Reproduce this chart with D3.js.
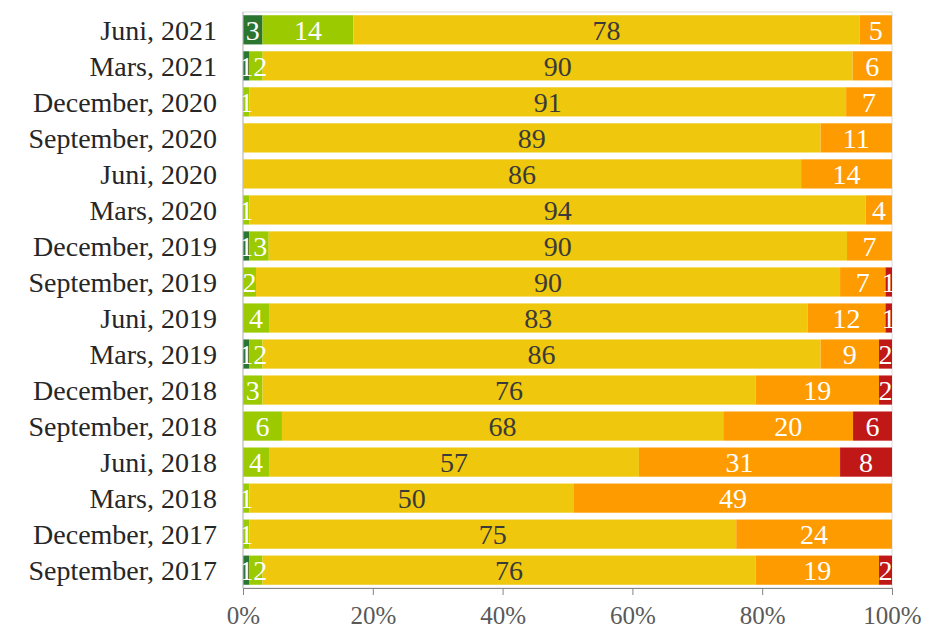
<!DOCTYPE html>
<html>
<head>
<meta charset="utf-8">
<script src="https://cdn.jsdelivr.net/npm/d3@7"></script>
<style>
  body { margin: 0; background: #fff; }
  svg text { font-family: "Liberation Serif", "Times New Roman", serif; }
</style>
</head>
<body>
<div id="chart"></div>
<script>
// categories, top to bottom
var periods = ["Juni, 2021", "Mars, 2021", "December, 2020", "September, 2020", "Juni, 2020",
    "Mars, 2020", "December, 2019", "September, 2019", "Juni, 2019", "Mars, 2019",
    "December, 2018", "September, 2018", "Juni, 2018", "Mars, 2018", "December, 2017",
    "September, 2017"];

// series values (%) per period, same order as periods
var darkGreen  = [3, 1, 0, 0, 0, 0, 1, 0, 0, 1, 0, 0, 0, 0, 0, 1];
var lightGreen = [14, 2, 1, 0, 0, 1, 3, 2, 4, 2, 3, 6, 4, 1, 1, 2];
var yellow     = [78, 90, 91, 89, 86, 94, 90, 90, 83, 86, 76, 68, 57, 50, 75, 76];
var orange     = [5, 6, 7, 11, 14, 4, 7, 7, 12, 9, 19, 20, 31, 49, 24, 19];
var red        = [0, 0, 0, 0, 0, 0, 0, 1, 1, 2, 2, 6, 8, 0, 0, 2];

var tickLabels = ["0%", "20%", "40%", "60%", "80%", "100%"];

var keys = ["darkGreen", "lightGreen", "yellow", "orange", "red"];
var colors = {darkGreen: "#2a7530", lightGreen: "#9bca00", yellow: "#efc70c", orange: "#fe9b00", red: "#c01717"};
var labelColors = {darkGreen: "#fff", lightGreen: "#fff", yellow: "#3a3a3a", orange: "#fff", red: "#fff"};

var rows = periods.map(function (p, i) {
    return {period: p, darkGreen: darkGreen[i], lightGreen: lightGreen[i], yellow: yellow[i],
        orange: orange[i], red: red[i]};
});

var margin = {top: 12, right: 34, bottom: 40, left: 243},
    width = 926 - margin.left - margin.right,
    height = 628 - margin.top - margin.bottom;

var svg = d3.select("#chart")
    .append("svg")
        .attr("width", 926)
        .attr("height", 628)
    .append("g")
        .attr("transform", "translate(" + margin.left + "," + margin.top + ")");

var x = d3.scaleLinear()
    .domain([0, 1])
    .range([0, width]);

var y = d3.scaleBand()
    .domain(periods)
    .range([0, height])
    .paddingInner(0.19)
    .paddingOuter(0.09);

var series = d3.stack()
    .keys(keys)
    .offset(d3.stackOffsetExpand)(rows);

// plot area frame
svg.append("rect")
    .attr("x", 0).attr("y", 0)
    .attr("width", width).attr("height", height)
    .style("fill", "none")
    .style("stroke", "#d9d9d9");

var groups = svg.append("g")
    .selectAll("g")
    .data(series)
    .enter()
    .append("g")
    .style("fill", function (d) { return colors[d.key]; });

groups.selectAll("rect")
    .data(function (d) { return d; })
    .enter()
    .append("rect")
    .attr("x", function (d) { return x(d[0]); })
    .attr("y", function (d) { return y(d.data.period); })
    .attr("width", function (d) { return x(d[1]) - x(d[0]); })
    .attr("height", y.bandwidth());

// value labels
var mid = function (d) { return (x(d[0]) + x(d[1])) / 2; };
series.forEach(function (s, k) {
    svg.append("g")
        .selectAll("text")
        .data(s.filter(function (d) { return d.data[s.key] > 0; }))
        .enter()
        .append("text")
        .attr("x", function (d, i) {
            var cx = mid(d);
            // tiny light-green segment next to a tiny dark-green one: sit just after it
            if (s.key == "lightGreen" && d.data.darkGreen > 0) {
                var prev = series[0][periods.indexOf(d.data.period)];
                cx = Math.max(cx, mid(prev) + 14);
            }
            return cx;
        })
        .attr("y", function (d) { return y(d.data.period) + y.bandwidth() / 2; })
        .attr("dy", "0.35em")
        .attr("text-anchor", "middle")
        .style("font-size", "28px")
        .style("fill", labelColors[s.key])
        .text(function (d) { return d.data[s.key]; });
});

// category labels
svg.append("g")
    .selectAll("text")
    .data(periods)
    .enter()
    .append("text")
    .attr("x", -26)
    .attr("y", function (d) { return y(d) + y.bandwidth() / 2; })
    .attr("dy", "0.35em")
    .attr("text-anchor", "end")
    .style("font-size", "28px")
    .style("fill", "#262626")
    .text(function (d) { return d; });

// left axis line
svg.append("line")
    .attr("x1", 0).attr("x2", 0)
    .attr("y1", 0).attr("y2", height)
    .style("stroke", "#bfbfbf");

// bottom axis
var xAxis = svg.append("g")
    .attr("transform", "translate(0," + height + ")")
    .call(d3.axisBottom(x)
        .tickValues(d3.range(0, 1.01, 0.2))
        .tickSize(7)
        .tickSizeOuter(0)
        .tickFormat(function (d, i) { return tickLabels[i]; }));

xAxis.select(".domain").style("stroke", "#868686");
xAxis.selectAll(".tick line").style("stroke", "#868686");
xAxis.selectAll(".tick text")
    .attr("y", 18)
    .style("font-size", "25px")
    .style("font-family", "'Liberation Serif', serif")
    .style("fill", "#595959");
</script>
</body>
</html>
